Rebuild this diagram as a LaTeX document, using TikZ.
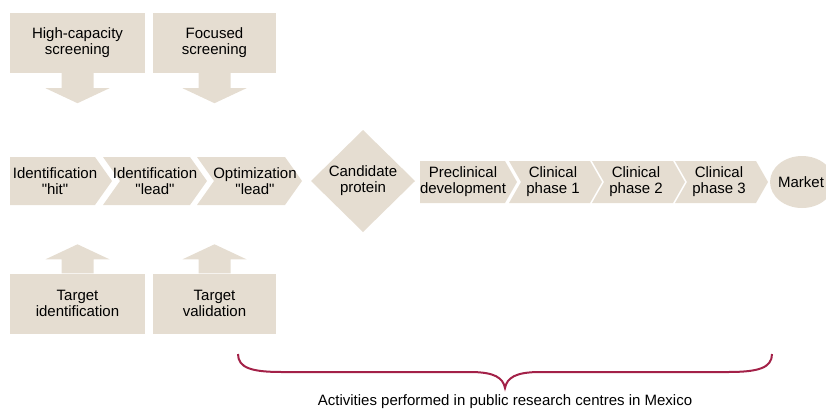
\documentclass[tikz,border=0pt]{standalone}
\usepackage{fontspec}
\setmainfont{Liberation Sans}
\usetikzlibrary{calc}
\definecolor{sand}{RGB}{229,221,209}
\definecolor{bracered}{RGB}{163,33,72}

\begin{document}
\begin{tikzpicture}[x=1pt,y=-1pt,font=\fontsize{15}{16}\selectfont,
  box/.style={fill=sand,minimum width=135pt,minimum height=60pt,inner sep=0pt,align=center},
  lbl/.style={align=center,inner sep=0pt}]
\useasboundingbox (0,0) rectangle (826,408);
% Screening boxes
\node[box] (hcs) at (77.5,43) {High-capacity\\screening};
\node[box,minimum width=123pt] (fs) at (214.5,43) {Focused\\screening};
\fill[sand] ($(hcs.south)+(-16,0)$) -- ++(0,15) -- ++(-16,0) -- ($(hcs.south)+(0,30)$) -- ($(hcs.south)+(32,15)$) -- ++(-16,0) -- ($(hcs.south)+(16,0)$) -- cycle;
\fill[sand] ($(fs.south)+(-16,0)$) -- ++(0,15) -- ++(-16,0) -- ($(fs.south)+(0,30)$) -- ($(fs.south)+(32,15)$) -- ++(-16,0) -- ($(fs.south)+(16,0)$) -- cycle;
% Target boxes
\node[box] (tid) at (77.5,303.5) {Target\\identification};
\node[box,minimum width=123pt] (tval) at (214.5,303.5) {Target\\validation};
\fill[sand] ($(tid.north)+(-16,0)$) -- ++(0,-14) -- ++(-16,0) -- ($(tid.north)+(0,-29)$) -- ($(tid.north)+(32,-14)$) -- ++(-16,0) -- ($(tid.north)+(16,0)$) -- cycle;
\fill[sand] ($(tval.north)+(-16,0)$) -- ++(0,-14) -- ++(-16,0) -- ($(tval.north)+(0,-29)$) -- ($(tval.north)+(32,-14)$) -- ++(-16,0) -- ($(tval.north)+(16,0)$) -- cycle;
% Discovery chevrons
\fill[sand] (10,157) -- (95,157) -- (112,181) -- (95,205) -- (10,205) -- cycle;
\fill[sand] (103,157) -- (190,157) -- (207,181) -- (190,205) -- (103,205) -- (120,181) -- cycle;
\fill[sand] (197,157) -- (285,157) -- (302,181) -- (285,205) -- (197,205) -- (214,181) -- cycle;
\node[lbl] (hit) at (55,181) {Identification\\\textquotedbl hit\textquotedbl};
\node[lbl] (lead) at (155,181) {Identification\\\textquotedbl lead\textquotedbl};
\node[lbl] (opt) at (255,181) {Optimization\\\textquotedbl lead\textquotedbl};
% Candidate
\fill[sand] (363,130) -- (415,181) -- (363,232) -- (311,181) -- cycle;
\node[lbl] (cand) at (363,181) {Candidate\\protein};
% Development chevrons
\fill[sand] (420,161) -- (505,161) -- (517,182) -- (505,203) -- (420,203) -- cycle;
\fill[sand] (509,161) -- (590,161) -- (602,182) -- (590,203) -- (509,203) -- (521,182) -- cycle;
\fill[sand] (592,161) -- (673,161) -- (685,182) -- (673,203) -- (592,203) -- (604,182) -- cycle;
\fill[sand] (675,161) -- (756,161) -- (768,182) -- (756,203) -- (675,203) -- (687,182) -- cycle;
\node[lbl] (pre) at (463,182) {Preclinical\\development};
\node[lbl] (ph1) at (553,182) {Clinical\\phase 1};
\node[lbl] (ph2) at (636,182) {Clinical\\phase 2};
\node[lbl] (ph3) at (719,182) {Clinical\\phase 3};
% Market
\fill[sand] (802,182) ellipse [x radius=32, y radius=26];
\node[lbl] (mkt) at (801,182) {Market};
% Brace
\draw[bracered,line width=2pt] (238,354) .. controls (238,368) and (252,372) .. (282,372) -- (470,372) .. controls (495,372) and (503,378) .. (505,388) .. controls (507,378) and (515,372) .. (540,372) -- (728,372) .. controls (758,372) and (772,368) .. (772,354);
\node[lbl,anchor=base] (pub) at (505,405) {Activities performed in public research centres in Mexico};
\end{tikzpicture}
\end{document}
